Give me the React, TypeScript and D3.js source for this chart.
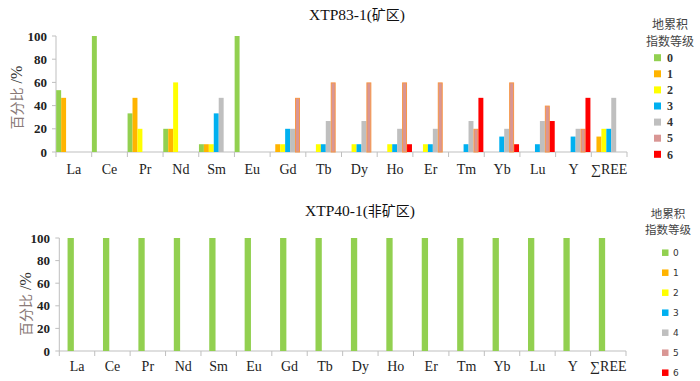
import React from "react";
import * as d3 from "d3";

const categories = ["La", "Ce", "Pr", "Nd", "Sm", "Eu", "Gd", "Tb", "Dy", "Ho", "Er", "Tm", "Yb", "Lu", "Y", "∑REE"];
const levels = ["0", "1", "2", "3", "4", "5", "6"];
const levelColors = ["#92D050", "#FFB400", "#FFFF00", "#00B0F0", "#BFBFBF", "#D99694", "#FF0000"];
const yTicks = [0, 20, 40, 60, 80, 100];

// XTP83-1 (mining area): percentage of samples per level, per element
const top0 = [53.3, 100, 33.3, 20, 6.7, 100, 0, 0, 0, 0, 0, 0, 0, 0, 0, 0];
const top1 = [46.7, 0, 46.7, 20, 6.7, 0, 6.7, 0, 0, 0, 0, 0, 0, 0, 0, 13.3];
const top2 = [0, 0, 20, 60, 6.7, 0, 6.7, 6.7, 6.7, 6.7, 6.7, 0, 0, 0, 0, 20];
const top3 = [0, 0, 0, 0, 33.3, 0, 20, 6.7, 6.7, 6.7, 6.7, 6.7, 13.3, 6.7, 13.3, 20];
const top4 = [0, 0, 0, 0, 46.7, 0, 20, 26.7, 26.7, 20, 20, 26.7, 20, 26.7, 20, 46.7];
const top5 = [0, 0, 0, 0, 0, 0, 46.7, 60, 60, 60, 60, 20, 60, 40, 20, 0];
const top6 = [0, 0, 0, 0, 0, 0, 0, 0, 0, 6.7, 0, 46.7, 6.7, 26.7, 46.7, 0];
const topSeries = [top0, top1, top2, top3, top4, top5, top6];

// XTP40-1 (non-mining area)
const bottom0 = [100, 100, 100, 100, 100, 100, 100, 100, 100, 100, 100, 100, 100, 100, 100, 100];
const bottomSeries = [bottom0];

const serif = "'Liberation Serif', 'Times New Roman', serif";
const cjk = "'Noto Sans CJK SC', sans-serif";

function Axes({ x, y, labelBaseline, tickLabelX }: any) {
  const [x0, x1] = x.range();
  const bw = x.bandwidth();
  const y0 = y(0);
  const bounds = d3.range(categories.length + 1).map((i) => x0 + i * bw);
  return (
    <g>
      <line x1={x0} x2={x0} y1={y(100)} y2={y0} stroke="#BFBFBF" />
      {yTicks.map((t) => (
        <g key={t}>
          <line x1={x0 - 4} x2={x0} y1={y(t)} y2={y(t)} stroke="#BFBFBF" />
          <text x={tickLabelX} y={y(t)} dy="0.35em" textAnchor="end" fontFamily={serif} fontWeight="bold" fontSize={13} fill="#222">
            {t}
          </text>
        </g>
      ))}
      <line x1={x0} x2={x1} y1={y0} y2={y0} stroke="#BFBFBF" />
      {bounds.map((b, i) => (
        <line key={i} x1={b} x2={b} y1={y0} y2={y0 + 5} stroke="#BFBFBF" />
      ))}
      {categories.map((c) => (
        <text key={c} x={(x(c) as number) + bw / 2} y={labelBaseline} textAnchor="middle" fontFamily={serif} fontSize={14} fill="#222">
          {c}
        </text>
      ))}
    </g>
  );
}

function YTitle({ cx, cy }: any) {
  return (
    <text transform={`translate(${cx},${cy}) rotate(-90)`} textAnchor="middle" dy="0.35em" fontSize={14}>
      <tspan fontFamily={cjk} fill="#8a7a78">百分比</tspan>
      <tspan fontFamily={serif} fontSize={16} fill="#333"> /%</tspan>
    </text>
  );
}

function Legend({ cx, titleY1, titleY2, titleSize, sqX, sqSize, itemY0, itemStep, labelX, labelFont, labelSize, labelWeight }: any) {
  return (
    <g>
      <text x={cx} y={titleY1} textAnchor="middle" fontFamily={cjk} fontSize={titleSize} fill="#444">地累积</text>
      <text x={cx} y={titleY2} textAnchor="middle" fontFamily={cjk} fontSize={titleSize} fill="#444">指数等级</text>
      {levels.map((l, i) => {
        const cy = itemY0 + i * itemStep;
        return (
          <g key={l}>
            <rect x={sqX} y={cy - sqSize / 2} width={sqSize} height={sqSize} fill={levelColors[i]} />
            <text x={labelX} y={cy} dy="0.35em" fontFamily={labelFont} fontSize={labelSize} fontWeight={labelWeight} fill="#333">
              {l}
            </text>
          </g>
        );
      })}
    </g>
  );
}

export default function App() {
  // Top chart scales
  const xTop = d3.scaleBand().domain(categories).range([56, 627]).padding(0);
  const yTop = d3.scaleLinear().domain([0, 100]).range([152, 36]);
  const innerTop = d3.scaleBand().domain(levels).range([0.2, xTop.bandwidth() - 0.9]).padding(0);

  // Bottom chart scales
  const xBot = d3.scaleBand().domain(categories).range([59.3, 626]).padding(0);
  const yBot = d3.scaleLinear().domain([0, 100]).range([351, 238]);
  const innerBot = d3.scaleBand().domain(["0", "a", "b"]).range([0, xBot.bandwidth()]).paddingInner(0).paddingOuter(1.31);

  return (
    <svg width={700} height={381} style={{ position: "absolute", left: 0, top: 0, background: "#fff" }}>
      {/* Top chart */}
      <text x={357} y={20} textAnchor="middle" fontSize={15.5} fill="#111">
        <tspan fontFamily={serif}>XTP83-1(</tspan>
        <tspan fontFamily={cjk} fontSize={14}>矿区</tspan>
        <tspan fontFamily={serif}>)</tspan>
      </text>
      <Axes x={xTop} y={yTop} labelBaseline={174} tickLabelX={47} />
      <YTitle cx={17} cy={97.5} />
      {topSeries.map((vals, si) => (
        <g key={si}>
          {vals.map((v, ci) =>
            v > 0 ? (
              si === 5 ? (
                <rect
                  key={ci}
                  x={(xTop(categories[ci]) as number) + (innerTop(levels[si]) as number) + 0.5}
                  y={yTop(v) + 0.5}
                  width={innerTop.bandwidth() - 1}
                  height={yTop(0) - yTop(v) - 0.5}
                  fill={levelColors[si]}
                  stroke="#F79646"
                  strokeWidth={1}
                />
              ) : (
                <rect
                  key={ci}
                  x={(xTop(categories[ci]) as number) + (innerTop(levels[si]) as number)}
                  y={yTop(v)}
                  width={innerTop.bandwidth()}
                  height={yTop(0) - yTop(v)}
                  fill={levelColors[si]}
                />
              )
            ) : null
          )}
        </g>
      ))}
      <Legend
        cx={670}
        titleY1={29}
        titleY2={46}
        titleSize={12}
        sqX={654}
        sqSize={7}
        itemY0={57.7}
        itemStep={16.1}
        labelX={667}
        labelFont={serif}
        labelSize={12}
        labelWeight="bold"
      />

      {/* Bottom chart */}
      <text x={360} y={216} textAnchor="middle" fontSize={15.5} fill="#111">
        <tspan fontFamily={serif}>XTP40-1(</tspan>
        <tspan fontFamily={cjk} fontSize={14}>非矿区</tspan>
        <tspan fontFamily={serif}>)</tspan>
      </text>
      <Axes x={xBot} y={yBot} labelBaseline={371} tickLabelX={50} />
      <YTitle cx={26} cy={304} />
      {bottomSeries.map((vals, si) => (
        <g key={si}>
          {vals.map((v, ci) =>
            v > 0 ? (
              <rect
                key={ci}
                x={(xBot(categories[ci]) as number) + (innerBot(levels[si]) as number)}
                y={yBot(v)}
                width={innerBot.bandwidth()}
                height={yBot(0) - yBot(v)}
                fill={levelColors[si]}
              />
            ) : null
          )}
        </g>
      ))}
      <Legend
        cx={668}
        titleY1={218}
        titleY2={234}
        titleSize={11.5}
        sqX={662}
        sqSize={6.5}
        itemY0={252.7}
        itemStep={20}
        labelX={673}
        labelFont="'DejaVu Sans', sans-serif"
        labelSize={9}
        labelWeight="normal"
      />
    </svg>
  );
}
